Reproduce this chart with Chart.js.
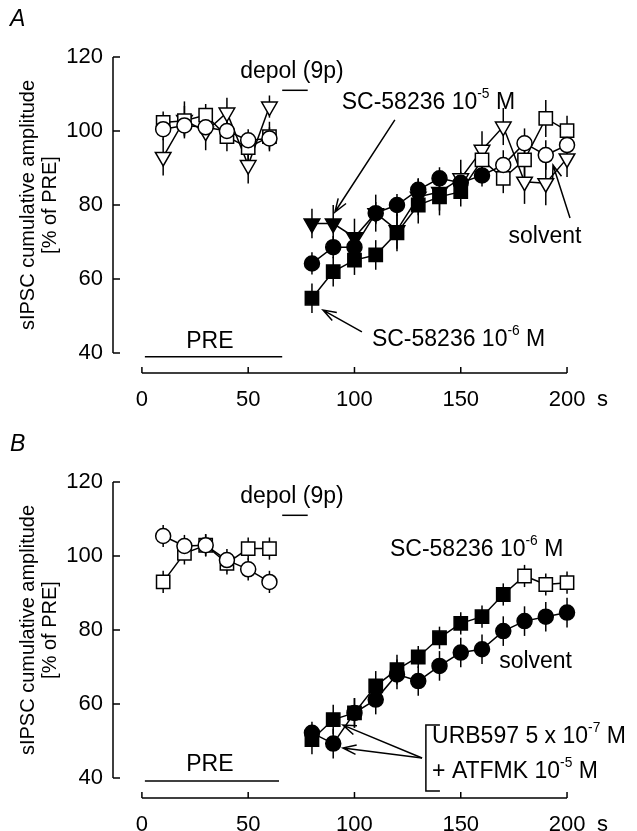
<!DOCTYPE html>
<html>
<head>
<meta charset="utf-8">
<script src="https://cdn.jsdelivr.net/npm/chart.js@4.4.0/dist/chart.umd.min.js"></script>
<style>
  html, body { margin: 0; padding: 0; background: #fff; overflow: hidden; }
  #wrap { position: relative; width: 637px; height: 831px; }
  canvas { position: absolute; left: 0; }
  #cA { top: 0; }
  #cB { top: 425px; }
</style>
</head>
<body>
<div id="wrap">
  <canvas id="cA" width="637" height="420"></canvas>
  <canvas id="cB" width="637" height="406"></canvas>
</div>
<script>
// time of each bin (s); 70 s = depolarisation, no value
const times = [10, 20, 30, 40, 50, 60, 70, 80, 90, 100, 110, 120, 130, 140, 150, 160, 170, 180, 190, 200];
const xTicks = [0, 50, 100, 150, 200];
const yTicks = [40, 60, 80, 100, 120];

// panel A: solvent (circles), SC-58236 1e-6 M (squares), SC-58236 1e-5 M (triangles)
const aSolvent    = [100.5, 101.5, 101, 100, 97.5, 98, null, 64.2, 68.6, 68.6, 77.8, 80, 84.1, 87.2, 86, 88, 90.8, 96.7, 93.5, 96.2];
const aSolventErr = [3, 3, 3, 3, 3, 3, null, 3, 3, 3, 3, 3, 3, 3, 3, 3, 4, 4, 4, 4];
const aSolventSig = [0, 0, 0, 0, 0, 0, null, 1, 1, 1, 1, 1, 1, 1, 1, 1, 0, 0, 0, 0];
const aSC6    = [102.3, 102.8, 104.3, 98.5, 95.5, 98.5, null, 54.8, 62, 65.1, 66.5, 72.5, 80, 82.2, 83.6, 92.2, 87.2, 92.2, 103.4, 100.1];
const aSC6Err = [3, 4, 3, 4, 4, 4, null, 4, 4, 4, 4, 5, 5, 5, 4, 4, 4, 5, 5, 4];
const aSC6Sig = [0, 0, 0, 0, 0, 0, null, 1, 1, 1, 1, 1, 1, 1, 1, 0, 0, 0, 0, 0];
const aSC5    = [93, 103, 99.8, 105, 90.8, 106.6, null, 75, 75, 71.3, 77.8, 73.2, 82.2, 83.5, 87.2, 94.9, 101.2, 86.3, 85.9, 92.6];
const aSC5Err = [5, 5, 5, 4, 5, 3, null, 4, 5, 5, 5, 5, 5, 5, 5, 5, 5, 6, 6, 5];
const aSC5Sig = [0, 0, 0, 0, 0, 0, null, 1, 1, 1, 1, 1, 1, 1, 0, 0, 0, 0, 0, 0];

// panel B: URB597 + ATFMK, solvent (circles) and SC-58236 1e-6 M (squares)
const bSolvent    = [105.4, 102.7, 102.9, 98.9, 96.4, 93.0, null, 52.2, 49.3, 57.6, 61.2, 68, 66.2, 70.3, 73.9, 74.8, 79.7, 82.4, 83.6, 84.7];
const bSolventErr = [3, 3, 3, 3, 3, 3, null, 3, 4, 4, 4, 4, 4, 4, 4, 4, 4, 4, 4, 4];
const bSolventSig = [0, 0, 0, 0, 0, 0, null, 1, 1, 1, 1, 1, 1, 1, 1, 1, 1, 1, 1, 1];
const bSC6    = [93.0, 100.7, 102.9, 98.0, 102.0, 102.0, null, 50.4, 55.8, 57.6, 64.9, 69.3, 72.7, 77.9, 81.8, 83.6, 89.6, 94.6, 92.3, 92.8];
const bSC6Err = [3, 3, 3, 3, 3, 3, null, 4, 4, 4, 4, 4, 3, 3, 3, 3, 3, 3, 3, 3];
const bSC6Sig = [0, 0, 0, 0, 0, 0, null, 1, 1, 1, 1, 1, 1, 1, 1, 1, 1, 0, 0, 0];

const FONT = "'Liberation Sans', Arial, Helvetica, sans-serif";
const FS = 22;   // tick labels
const FA = 23;   // annotations

function series(vals, errs, sig, style) {
  const shapes = {
    circle: { pointStyle: 'circle', pointRadius: 7.5, pointRotation: 0 },
    square: { pointStyle: 'rect', pointRadius: 9.4, pointRotation: 0 },
    tri: { pointStyle: 'triangle', pointRadius: 9, pointRotation: 180 }
  };
  return Object.assign({
    data: times.map((t, i) => ({ x: t, y: vals[i] })),
    errors: errs,
    borderColor: '#000',
    borderWidth: 1.5,
    pointBorderColor: '#000',
    pointBorderWidth: 1.5,
    pointBackgroundColor: sig.map(s => (s ? '#000' : '#fff')),
    pointHoverRadius: 0,
    spanGaps: false,
    tension: 0,
    clip: false
  }, shapes[style]);
}

// error bars, drawn under the markers
const errorBars = {
  id: 'errorBars',
  beforeDatasetsDraw(chart) {
    const { ctx, scales: { x, y } } = chart;
    ctx.save();
    ctx.strokeStyle = '#000';
    ctx.lineWidth = 1.5;
    chart.data.datasets.forEach(ds => {
      ds.data.forEach((p, i) => {
        const e = ds.errors[i];
        if (p.y == null || e == null) return;
        const px = x.getPixelForValue(p.x);
        ctx.beginPath();
        ctx.moveTo(px, y.getPixelForValue(p.y - e));
        ctx.lineTo(px, y.getPixelForValue(p.y + e));
        ctx.stroke();
      });
    });
    ctx.restore();
  }
};

function richText(ctx, parts, x, y, align, size) {
  size = size || FA;
  let w = 0;
  parts.forEach(([t, sup]) => {
    ctx.font = (sup ? size * 0.6 : size) + 'px ' + FONT;
    w += ctx.measureText(t).width;
  });
  let cx = align === 'center' ? x - w / 2 : x;
  ctx.textAlign = 'left';
  ctx.textBaseline = 'middle';
  parts.forEach(([t, sup]) => {
    ctx.font = (sup ? size * 0.6 : size) + 'px ' + FONT;
    ctx.fillText(t, cx, sup ? y - size * 0.38 : y);
    cx += ctx.measureText(t).width;
  });
}

function arrow(ctx, x1, y1, x2, y2) {
  const a = Math.atan2(y2 - y1, x2 - x1);
  const L = 14, h = 0.34;
  ctx.beginPath();
  ctx.moveTo(x1, y1);
  ctx.lineTo(x2, y2);
  ctx.moveTo(x2 - L * Math.cos(a - h), y2 - L * Math.sin(a - h));
  ctx.lineTo(x2, y2);
  ctx.lineTo(x2 - L * Math.cos(a + h), y2 - L * Math.sin(a + h));
  ctx.stroke();
}

// axes drawn detached (y axis 40-120, x axis 0-200 below it) plus labels and arrows
const decor = {
  id: 'decor',
  afterDraw(chart, args, opts) {
    const { ctx, chartArea, scales: { x, y } } = chart;
    const X = v => x.getPixelForValue(v);
    const Y = v => y.getPixelForValue(v);
    ctx.save();
    ctx.strokeStyle = '#000';
    ctx.fillStyle = '#000';
    ctx.lineWidth = 1.5;

    // y axis
    ctx.beginPath();
    ctx.moveTo(chartArea.left, Y(yTicks[0]));
    ctx.lineTo(chartArea.left, Y(yTicks[yTicks.length - 1]));
    yTicks.forEach(v => { ctx.moveTo(chartArea.left, Y(v)); ctx.lineTo(chartArea.left + 7, Y(v)); });
    ctx.stroke();

    // x axis
    const ax = chartArea.bottom + 20;
    ctx.beginPath();
    ctx.moveTo(X(xTicks[0]), ax);
    ctx.lineTo(X(xTicks[xTicks.length - 1]), ax);
    xTicks.forEach(v => { ctx.moveTo(X(v), ax); ctx.lineTo(X(v), ax - 6); });
    ctx.stroke();
    richText(ctx, [['s']], X(200) + 30, ax + 27, 'left', FS);

    // panel letter
    ctx.font = 'italic ' + FA + 'px ' + FONT;
    ctx.textAlign = 'left';
    ctx.textBaseline = 'middle';
    ctx.fillText(opts.letter, 10, 20);

    opts.texts.forEach(t => richText(ctx, t.parts, X(t.at[0]), Y(t.at[1]), t.align));
    opts.lines.forEach(l => {
      ctx.beginPath();
      l.forEach((p, i) => (i ? ctx.lineTo(X(p[0]), Y(p[1])) : ctx.moveTo(X(p[0]), Y(p[1]))));
      ctx.stroke();
    });
    opts.arrows.forEach(a => arrow(ctx, X(a[0][0]), Y(a[0][1]), X(a[1][0]), Y(a[1][1])));
    ctx.restore();
  }
};

function makeChart(id, datasets, deco, height) {
  return new Chart(document.getElementById(id), {
    type: 'line',
    data: { datasets },
    plugins: [errorBars, decor],
    options: {
      responsive: false,
      animation: false,
      devicePixelRatio: 1,
      layout: { padding: { top: 57, left: 0, right: 57, bottom: 0 } },
      plugins: { legend: { display: false }, tooltip: { enabled: false }, decor: deco },
      scales: {
        x: {
          type: 'linear', min: -13.6, max: 206.1,
          afterBuildTicks: s => { s.ticks = xTicks.map(v => ({ value: v })); },
          afterFit: s => { s.height = height - 353; },
          grid: { display: false, drawTicks: false },
          border: { display: false },
          ticks: { color: '#000', font: { family: FONT, size: FS }, padding: 34, maxRotation: 0 }
        },
        y: {
          min: 40, max: 120,
          afterBuildTicks: s => { s.ticks = yTicks.map(v => ({ value: v })); },
          afterFit: s => { s.width = 113; },
          grid: { display: false, drawTicks: false },
          border: { display: false },
          ticks: { color: '#000', font: { family: FONT, size: FS }, padding: 10 },
          title: {
            display: true,
            text: ['sIPSC cumulative amplitude', '[% of PRE]'],
            color: '#000',
            font: { family: FONT, size: 20, lineHeight: 1.1 },
            padding: { top: 17, bottom: 0 }
          }
        }
      }
    }
  });
}

const depolText = { at: [70.6, 116], parts: [['depol (9p)']], align: 'center' };
const depolBar = [[66, 111], [78, 111]];

makeChart('cA', [
  series(aSolvent, aSolventErr, aSolventSig, 'circle'),
  series(aSC6, aSC6Err, aSC6Sig, 'square'),
  series(aSC5, aSC5Err, aSC5Sig, 'tri')
], {
  letter: 'A',
  texts: [
    depolText,
    { at: [32, 43], parts: [['PRE']], align: 'center' },
    { at: [94, 107.6], parts: [['SC-58236 10'], ['-5', 1], [' M']], align: 'left' },
    { at: [189.6, 71.4], parts: [['solvent']], align: 'center' },
    { at: [108.2, 43.5], parts: [['SC-58236 10'], ['-6', 1], [' M']], align: 'left' }
  ],
  lines: [depolBar, [[1.4, 39], [66, 39]]],
  arrows: [
    [[119, 103], [90.8, 78.1]],
    [[201.4, 76.5], [193.4, 90.8]],
    [[103.5, 45.7], [85.2, 51.6]]
  ]
}, 420);

makeChart('cB', [
  series(bSolvent, bSolventErr, bSolventSig, 'circle'),
  series(bSC6, bSC6Err, bSC6Sig, 'square')
], {
  letter: 'B',
  texts: [
    depolText,
    { at: [32, 43.5], parts: [['PRE']], align: 'center' },
    { at: [116.7, 101.6], parts: [['SC-58236 10'], ['-6', 1], [' M']], align: 'left' },
    { at: [185.2, 71.4], parts: [['solvent']], align: 'center' },
    { at: [136.5, 51.1], parts: [['URB597 5 x 10'], ['-7', 1], [' M']], align: 'left' },
    { at: [136.5, 41.6], parts: [['+ ATFMK 10'], ['-5', 1], [' M']], align: 'left' }
  ],
  lines: [depolBar, [[1.4, 39.2], [64.5, 39.2]], [[140.2, 54.3], [133.6, 54.3], [133.6, 36.5], [140.2, 36.5]]],
  arrows: [
    [[131.8, 45.4], [94.6, 54.3]],
    [[131.8, 45.4], [94.6, 48.1]]
  ]
}, 406);
</script>
</body>
</html>
